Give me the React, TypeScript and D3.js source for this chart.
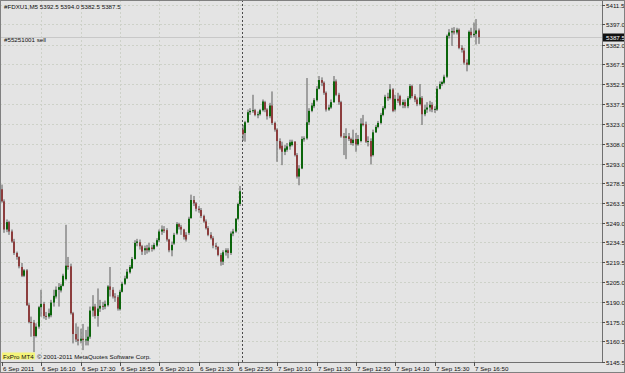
import React from 'react';
import * as d3 from 'd3';

const opens = [
  5274.0, 5265.0, 5244.0, 5249.5, 5242.5, 5235.0, 5226.5, 5223.5, 5216.0, 5209.5,
  5213.5, 5187.5, 5175.0, 5174.5, 5164.5, 5171.5, 5186.0, 5188.5, 5179.5, 5179.0,
  5180.0, 5189.5, 5194.0, 5199.0, 5198.5, 5202.0, 5207.0, 5217.0, 5216.5, 5181.5,
  5166.0, 5162.0, 5161.0, 5162.5, 5161.5, 5161.0, 5164.0, 5183.5, 5186.5, 5179.5,
  5185.0, 5187.0, 5186.5, 5187.5, 5201.5, 5199.0, 5194.0, 5193.5, 5184.5, 5197.5,
  5203.5, 5207.5, 5212.0, 5215.0, 5222.0, 5234.0, 5234.5, 5231.5, 5228.5, 5230.0,
  5228.5, 5230.5, 5229.5, 5232.0, 5236.0, 5242.5, 5244.0, 5243.5, 5236.5, 5228.5,
  5233.5, 5241.0, 5248.0, 5246.0, 5244.0, 5240.0, 5241.5, 5252.5, 5266.0, 5263.5,
  5259.5, 5258.5, 5254.0, 5250.0, 5245.0, 5240.0, 5237.5, 5232.0, 5231.0, 5225.0,
  5220.0, 5227.0, 5228.5, 5226.5, 5241.0, 5242.5, 5252.0, 5263.0,
  5318.5, 5316.0, 5324.0, 5331.5, 5332.5, 5333.0, 5329.5, 5330.0, 5333.0, 5339.0,
  5333.5, 5328.5, 5336.5, 5323.5, 5318.5, 5310.0, 5306.5, 5302.0, 5303.5, 5306.0,
  5307.0, 5309.5, 5299.5, 5283.5, 5289.5, 5311.5, 5312.0, 5324.0, 5332.5, 5336.0,
  5340.5, 5349.0, 5355.5, 5353.5, 5346.0, 5333.5, 5335.0, 5339.0, 5354.5, 5344.5,
  5339.0, 5313.5, 5312.5, 5313.5, 5311.5, 5308.5, 5311.5, 5307.5, 5310.0, 5323.0,
  5322.5, 5309.5, 5310.0, 5299.5, 5316.5, 5320.5, 5323.5, 5329.5, 5334.5, 5343.0,
  5342.0, 5348.5, 5333.5, 5341.5, 5343.5, 5337.0, 5339.0, 5336.0, 5342.0, 5351.0,
  5343.5, 5341.0, 5337.5, 5342.0, 5330.0, 5333.5, 5335.0, 5337.0, 5333.5, 5333.5,
  5349.0, 5352.5, 5353.5, 5358.0, 5388.5, 5391.0, 5392.0, 5391.0, 5393.0, 5379.5,
  5377.5, 5368.5, 5367.0, 5391.5, 5389.0, 5390.0, 5392.5,
];

const highs = [
  5277.5, 5266.5, 5251.5, 5250.5, 5244.0, 5237.0, 5227.5, 5224.0, 5219.0, 5214.5,
  5214.5, 5189.0, 5179.0, 5176.5, 5174.0, 5187.0, 5199.0, 5190.0, 5182.5, 5185.0,
  5191.5, 5199.0, 5201.5, 5204.0, 5203.5, 5211.0, 5247.5, 5223.5, 5218.5, 5182.5,
  5174.0, 5171.5, 5170.0, 5173.5, 5169.0, 5171.5, 5186.5, 5195.0, 5188.5, 5200.0,
  5191.5, 5190.0, 5191.0, 5202.5, 5216.0, 5201.0, 5196.5, 5195.0, 5199.0, 5205.0,
  5209.5, 5214.5, 5217.5, 5223.5, 5236.0, 5237.0, 5236.5, 5232.5, 5232.0, 5232.5,
  5234.0, 5232.5, 5234.0, 5237.5, 5244.0, 5247.0, 5246.5, 5245.0, 5237.0, 5235.0,
  5241.5, 5249.5, 5249.0, 5247.5, 5244.5, 5242.0, 5253.5, 5270.0, 5269.0, 5264.5,
  5261.5, 5260.0, 5255.0, 5251.5, 5246.5, 5242.0, 5239.0, 5234.0, 5231.5, 5226.5,
  5228.5, 5230.0, 5230.0, 5242.5, 5244.5, 5252.5, 5264.0, 5276.5,
  5322.0, 5325.0, 5333.5, 5334.5, 5344.5, 5334.0, 5332.0, 5334.0, 5341.0, 5340.0,
  5334.5, 5338.5, 5347.0, 5324.5, 5319.5, 5312.0, 5309.5, 5307.0, 5308.5, 5311.0,
  5311.0, 5310.0, 5301.0, 5292.0, 5313.5, 5313.5, 5357.0, 5334.5, 5338.5, 5342.0,
  5351.0, 5358.5, 5357.5, 5354.5, 5347.0, 5337.0, 5341.0, 5358.5, 5356.0, 5346.0,
  5340.0, 5316.0, 5319.5, 5316.0, 5312.5, 5318.5, 5316.0, 5314.5, 5327.0, 5329.5,
  5324.5, 5313.5, 5312.0, 5318.5, 5322.0, 5325.0, 5331.0, 5336.0, 5344.5, 5346.0,
  5352.5, 5349.5, 5344.5, 5346.0, 5344.5, 5341.0, 5341.0, 5343.5, 5352.5, 5352.0,
  5345.0, 5342.5, 5352.5, 5343.5, 5337.0, 5339.0, 5340.0, 5339.0, 5336.0, 5351.0,
  5354.5, 5355.0, 5359.5, 5389.5, 5393.5, 5394.5, 5395.0, 5394.5, 5394.0, 5381.5,
  5379.5, 5371.0, 5392.5, 5394.5, 5398.5, 5401.0, 5394.0,
];

const lows = [
  5264.0, 5241.5, 5242.0, 5240.0, 5234.0, 5225.0, 5221.5, 5215.0, 5208.5, 5208.5,
  5187.0, 5174.0, 5164.0, 5152.5, 5163.5, 5170.0, 5179.0, 5177.5, 5176.5, 5177.5,
  5178.5, 5186.5, 5192.5, 5186.5, 5197.0, 5201.5, 5206.0, 5214.0, 5180.5, 5159.0,
  5160.0, 5157.5, 5159.0, 5154.0, 5157.5, 5157.5, 5162.5, 5179.0, 5177.5, 5171.5,
  5182.5, 5184.0, 5184.5, 5186.5, 5194.0, 5192.5, 5190.0, 5183.5, 5183.5, 5197.0,
  5202.5, 5207.0, 5211.0, 5214.5, 5221.5, 5231.5, 5229.0, 5225.0, 5225.0, 5226.0,
  5227.0, 5227.5, 5228.5, 5231.0, 5234.5, 5240.0, 5241.5, 5235.0, 5227.0, 5224.0,
  5232.5, 5240.0, 5244.0, 5240.0, 5236.5, 5235.0, 5240.0, 5252.0, 5261.5, 5257.5,
  5256.5, 5252.5, 5249.0, 5244.0, 5239.0, 5236.5, 5230.0, 5229.0, 5224.0, 5217.0,
  5217.5, 5224.5, 5222.5, 5225.0, 5239.0, 5241.5, 5251.0, 5261.5,
  5310.0, 5309.5, 5323.5, 5329.5, 5331.0, 5328.5, 5327.0, 5329.0, 5332.0, 5331.5,
  5326.0, 5327.0, 5322.0, 5317.0, 5294.5, 5303.5, 5292.0, 5299.5, 5302.0, 5303.5,
  5306.0, 5298.5, 5282.0, 5277.0, 5289.0, 5309.5, 5311.0, 5322.0, 5331.5, 5334.5,
  5339.5, 5348.5, 5351.0, 5344.5, 5332.0, 5332.5, 5334.0, 5338.5, 5343.5, 5337.0,
  5312.5, 5299.5, 5296.5, 5310.0, 5307.0, 5306.5, 5302.0, 5306.5, 5309.0, 5321.0,
  5308.5, 5306.0, 5292.5, 5298.5, 5316.0, 5319.5, 5322.5, 5328.5, 5333.5, 5340.0,
  5341.0, 5331.5, 5332.0, 5338.5, 5336.0, 5334.5, 5334.5, 5334.5, 5341.0, 5342.0,
  5339.0, 5336.0, 5336.5, 5322.0, 5328.5, 5331.0, 5332.0, 5331.5, 5331.0, 5332.5,
  5348.5, 5351.0, 5352.5, 5357.0, 5386.5, 5381.0, 5389.5, 5389.5, 5378.5, 5376.0,
  5367.0, 5362.0, 5366.5, 5387.0, 5387.5, 5382.0, 5382.5,
];

const closes = [
  5265.0, 5244.0, 5249.5, 5242.5, 5235.0, 5226.5, 5223.5, 5216.5, 5209.5, 5213.5,
  5187.5, 5175.0, 5174.5, 5164.5, 5171.5, 5186.0, 5188.5, 5179.5, 5179.0, 5181.5,
  5189.5, 5194.5, 5199.0, 5201.0, 5202.0, 5209.5, 5217.0, 5216.0, 5181.5, 5166.0,
  5162.0, 5161.0, 5162.5, 5161.5, 5162.0, 5164.0, 5183.5, 5186.5, 5179.5, 5185.0,
  5187.0, 5186.5, 5188.5, 5201.5, 5199.0, 5194.0, 5193.5, 5185.0, 5197.5, 5203.5,
  5207.5, 5212.5, 5216.0, 5222.0, 5234.0, 5235.0, 5231.5, 5227.5, 5230.0, 5228.5,
  5230.5, 5229.5, 5232.5, 5236.0, 5242.5, 5244.0, 5243.0, 5236.5, 5228.5, 5232.5,
  5240.0, 5248.0, 5246.0, 5244.0, 5238.5, 5236.5, 5252.0, 5266.0, 5263.5, 5259.5,
  5258.5, 5254.0, 5250.0, 5245.0, 5240.0, 5237.5, 5232.0, 5231.0, 5225.0, 5220.0,
  5227.0, 5228.5, 5226.5, 5241.0, 5242.5, 5252.0, 5263.0, 5272.5,
  5315.0, 5324.0, 5331.5, 5332.5, 5333.0, 5329.5, 5330.0, 5333.0, 5339.5, 5333.5,
  5328.5, 5336.5, 5323.5, 5318.5, 5310.0, 5304.5, 5302.0, 5304.5, 5306.0, 5309.0,
  5309.5, 5299.5, 5283.5, 5289.5, 5311.5, 5312.0, 5324.0, 5332.5, 5336.5, 5340.5,
  5349.0, 5355.5, 5353.5, 5346.0, 5333.5, 5335.0, 5339.0, 5354.5, 5344.5, 5339.0,
  5313.5, 5312.5, 5313.5, 5311.5, 5308.5, 5311.0, 5307.5, 5311.5, 5323.0, 5322.0,
  5309.5, 5310.0, 5298.5, 5316.5, 5320.5, 5323.5, 5329.5, 5334.5, 5343.0, 5342.0,
  5348.5, 5332.5, 5341.5, 5340.0, 5337.0, 5339.0, 5336.0, 5342.0, 5351.0, 5343.5,
  5341.0, 5337.5, 5342.5, 5330.0, 5333.5, 5335.0, 5337.0, 5333.5, 5334.0, 5349.0,
  5352.5, 5354.0, 5358.0, 5388.5, 5391.0, 5392.0, 5391.0, 5393.0, 5379.5, 5378.0,
  5368.5, 5367.0, 5391.5, 5389.0, 5390.0, 5392.5, 5387.5,
];

const priceTicks = [
  5411.5, 5397.0, 5382.0, 5367.5, 5352.5, 5337.5, 5323.0, 5308.0, 5293.0, 5278.5,
  5263.5, 5249.0, 5234.5, 5219.5, 5205.0, 5190.0, 5175.0, 5160.5, 5145.5,
];
const timeLabels = [
  '6 Sep 2011', '6 Sep 16:10', '6 Sep 17:30', '6 Sep 18:50', '6 Sep 20:10', '6 Sep 21:30',
  '6 Sep 22:50', '7 Sep 10:10', '7 Sep 11:30', '7 Sep 12:50', '7 Sep 14:10', '7 Sep 15:30', '7 Sep 16:50',
];
const timeLabelBars = [0, 16, 32, 48, 64, 80, 96, 112, 128, 144, 160, 176, 192];
const separatorBar = 98;
const headerText = '#FDXU1,M5  5392.5 5394.0 5382.5 5387.5';
const orderText = '#55251001 sell';
const bidPrice = 5387.5;
const brandText = 'FxPro MT4';
const copyrightText = '\u00A9 2001-2011 MetaQuotes Software Corp.';

const W = 625;
const H = 373;
const PLOT_R = 602;
const PLOT_B = 362;
const FONT = 'Liberation Sans, Arial, sans-serif';
const FS = 6.2;

export default function App() {
  const n = closes.length;
  const x = d3.scaleLinear().domain([0, n - 1]).range([2, 2 + (n - 1) * 2.458]);
  const y = d3.scaleLinear().domain([5145.5, 5411.5]).range([361.5, 5]);
  const bull = '#0b650b';
  const bear = '#8c3d3d';
  const bidY = Math.round(y(bidPrice)) + 0.5;
  const sepX = Math.round(x(separatorBar) - 0.8) + 0.5;

  return (
    <svg width={W} height={H} style={{ position: 'absolute', left: 0, top: 0, display: 'block' }}
      fontFamily={FONT}>
      <rect x={0} y={0} width={W} height={H} fill="#e4e4e4" />
      {priceTicks.map((p, i) => (
        <line key={'hg' + i} x1={0} x2={PLOT_R} y1={Math.round(y(p)) + 0.5} y2={Math.round(y(p)) + 0.5}
          stroke="#cdd1c8" strokeDasharray="2,2" />
      ))}
      {timeLabelBars.slice(1).map((b, i) => (
        <line key={'vg' + i} x1={Math.round(x(b)) + 0.5} x2={Math.round(x(b)) + 0.5} y1={0} y2={PLOT_B}
          stroke="#cdd1c8" strokeDasharray="2,2" />
      ))}
      <line x1={0} x2={PLOT_R} y1={bidY} y2={bidY} stroke="#c8c8c8" />
      <line x1={sepX} x2={sepX} y1={0} y2={PLOT_B} stroke="#4a4a4a" strokeDasharray="2,2" />
      {closes.map((c, i) => {
        const o = opens[i];
        const cx = x(i);
        const x0 = Math.round(cx) - 1;
        const top = y(Math.max(o, c));
        const bot = y(Math.min(o, c));
        const up = c >= o;
        return (
          <g key={'c' + i}>
            <line x1={x0 + 1} x2={x0 + 1} y1={y(highs[i])} y2={y(lows[i])} stroke="#5a5a5a" strokeWidth={1} />
            <rect x={x0} y={top} width={2} height={Math.max(1, bot - top)} fill={up ? bull : bear} />
          </g>
        );
      })}
      <line x1={PLOT_R + 0.5} x2={PLOT_R + 0.5} y1={0} y2={PLOT_B} stroke="#707070" />
      <line x1={0} x2={PLOT_R + 1} y1={PLOT_B + 0.5} y2={PLOT_B + 0.5} stroke="#707070" />
      {priceTicks.map((p, i) => {
        const yy = Math.round(y(p)) + 0.5;
        return (
          <g key={'pt' + i}>
            <line x1={PLOT_R} x2={PLOT_R + 3} y1={yy} y2={yy} stroke="#505050" />
            <text x={606} y={yy} dy="0.35em" fontSize={FS} fill="#111">{p.toFixed(1)}</text>
          </g>
        );
      })}
      <rect x={PLOT_R + 1} y={bidY - 4} width={W - PLOT_R - 1} height={8} fill="#111" />
      <text x={606} y={bidY} dy="0.35em" fontSize={FS} fill="#fff">{bidPrice.toFixed(1)}</text>
      {timeLabelBars.map((b, i) => {
        const xx = Math.round(x(b)) + 0.5;
        return (
          <g key={'tl' + i}>
            <line x1={xx} x2={xx} y1={PLOT_B} y2={PLOT_B + 4} stroke="#505050" />
            <text x={xx + 0.5} y={371} fontSize={FS} fill="#111">{timeLabels[i]}</text>
          </g>
        );
      })}
      <text x={4} y={8.5} fontSize={FS} fill="#111">{headerText}</text>
      <text x={4} y={41.5} fontSize={FS} fill="#111">{orderText}</text>
      <rect x={2} y={352.5} width={33} height={7} fill="#f4f47a" />
      <text x={3} y={358.5} fontSize={FS} fill="#111">{brandText}</text>
      <text x={37} y={358.5} fontSize={FS} fill="#111">{copyrightText}</text>
      <rect x={0.5} y={0.5} width={W - 1} height={H - 1} fill="none" stroke="#808080" />
    </svg>
  );
}
